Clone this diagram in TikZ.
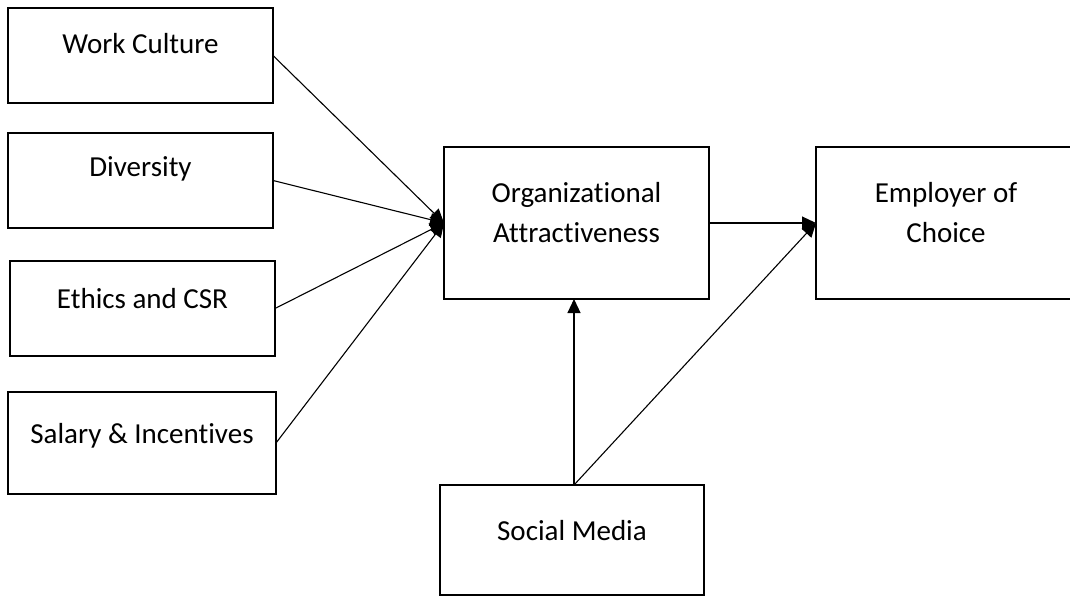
\documentclass[tikz,border=0pt]{standalone}
\usepackage{fontspec}
\setmainfont{Carlito}[Ligatures=NoCommon]
\usetikzlibrary{arrows.meta}
\begin{document}
\begin{tikzpicture}[x=1pt,y=-1pt,
  box/.style={draw=black,line width=1.2pt,rectangle},
  lbl/.style={anchor=base,inner sep=0pt,font=\fontsize{29}{35}\selectfont},
  conn/.style={draw=black,line width=1.1pt,-{Triangle[length=14pt,width=13pt]}}]
\useasboundingbox (0,0) rectangle (1070,596);
% boxes
\draw[box] (8,8) rectangle (273,103);
\coordinate (wcE) at (273,55.5);
\draw[box] (8,133) rectangle (273,228);
\coordinate (dvE) at (273,180.5);
\draw[box] (10,261) rectangle (275,356);
\coordinate (etE) at (275,308.5);
\draw[box] (8,392) rectangle (276,494);
\coordinate (saE) at (276,443);
\draw[box] (444,147) rectangle (709,299);
\coordinate (orW) at (444,223);
\coordinate (orE) at (709,223);
\coordinate (orS) at (574,299);
\draw[box] (816,147) rectangle (1075,299);
\coordinate (emW) at (816,223);
\draw[box] (440,485) rectangle (704,595);
\coordinate (smN) at (574,485);
% labels
\node[lbl] (wct) at (140.5,54) {Work Culture};
\node[lbl] (dvt) at (140.5,177) {Diversity};
\node[lbl] (ett) at (142.5,308) {Ethics and CSR};
\node[lbl] (sat) at (142,443) {Salary \& Incentives};
\node[lbl] (or1) at (576.5,202) {Organizational};
\node[lbl] (or2) at (576.5,242) {Attractiveness};
\node[lbl] (em1) at (946,202) {Employer of};
\node[lbl] (em2) at (946,242) {Choice};
\node[lbl] (smt) at (572,540) {Social Media};
% connectors
\draw[conn] (wcE) -- (orW);
\draw[conn] (dvE) -- (orW);
\draw[conn] (etE) -- (orW);
\draw[conn] (saE) -- (orW);
\draw[conn] (orE) -- (emW);
\draw[conn] (smN) -- (orS);
\draw[conn] (smN) -- (emW);
\end{tikzpicture}
\end{document}
